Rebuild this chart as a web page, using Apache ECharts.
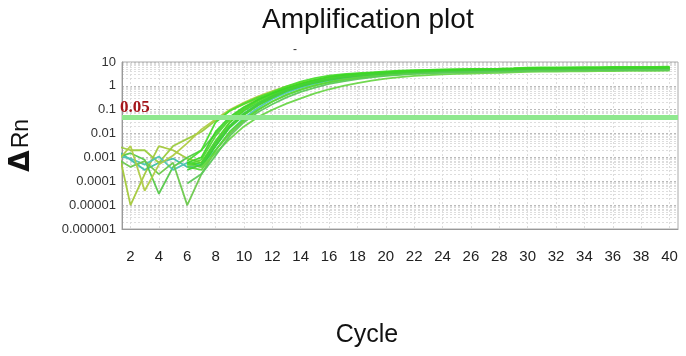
<!DOCTYPE html>
<html>
<head>
<meta charset="utf-8">
<script src="https://cdn.jsdelivr.net/npm/echarts@6/dist/echarts.min.js"></script>
<style>html,body{margin:0;padding:0;background:#fff}#c{width:686px;height:356px}</style>
</head>
<body>
<div id="c"></div>
<script>
var cycles = [1,2,3,4,5,6,7,8,9,10,11,12,13,14,15,16,17,18,19,20,21,22,23,24,25,26,27,28,29,30,31,32,33,34,35,36,37,38,39,40];
var xTickLabels = [2,4,6,8,10,12,14,16,18,20,22,24,26,28,30,32,34,36,38,40];
var yTickValues = [0.000001,0.00001,0.0001,0.001,0.01,0.1,1,10];
var yTickLabels = ['0.000001','0.00001','0.0001','0.001','0.01','0.1','1','10'];
var threshold = 0.05;
var N = null;

var well01 = [0.002,0.0008,0.0003,0.0006,0.0009,0.0004,0.0005,0.003,0.02,0.07,0.18,0.38,0.7,1.1,1.6,2.1,2.6,3.0,3.3,3.6,3.9,4.1,4.3,4.5,4.6,4.7,4.8,4.9,5.0,5.2,5.3,5.3,5.4,5.4,5.5,5.5,5.6,5.6,5.7,5.7];
var well02 = [0.005,0.00001,0.0002,0.003,0.002,0.0009,0.0006,0.004,0.03,0.1,0.25,0.45,0.75,1.15,1.6,2.1,2.6,3.0,3.4,3.7,4.0,4.2,4.4,4.6,4.7,4.8,4.9,5.0,5.1,5.3,5.4,5.4,5.5,5.5,5.6,5.6,5.7,5.7,5.8,5.8];
var well03 = [0.003,0.002,0.002,0.0006,0.003,0.006,0.012,0.035,0.09,0.17,0.3,0.5,0.8,1.2,1.6,2.0,2.4,2.8,3.2,3.5,3.8,4.1,4.3,4.5,4.6,4.7,4.8,4.9,5.0,5.2,5.3,5.3,5.4,5.4,5.5,5.5,5.5,5.6,5.6,5.6];
var well04 = [0.001,0.0015,0.0008,0.00003,0.0004,0.001,0.002,0.01,0.04,0.11,0.25,0.48,0.8,1.2,1.6,2.0,2.4,2.8,3.1,3.4,3.7,3.9,4.1,4.3,4.4,4.5,4.6,4.7,4.8,5.0,5.1,5.1,5.2,5.2,5.3,5.3,5.3,5.4,5.4,5.4];
var well05 = [0.0012,0.0009,0.0005,0.0011,0.0003,0.0006,0.0005,0.002,0.012,0.045,0.12,0.28,0.52,0.85,1.25,1.65,2.05,2.45,2.8,3.1,3.4,3.6,3.8,4.0,4.1,4.2,4.3,4.4,4.5,4.7,4.8,4.8,4.9,4.9,5.0,5.0,5.1,5.1,5.1,5.2];
var well06 = [0.0009,0.0004,0.0007,0.0002,0.0006,0.00001,0.0002,0.002,0.01,0.035,0.1,0.22,0.42,0.7,1.05,1.45,1.85,2.2,2.55,2.85,3.15,3.4,3.6,3.8,3.9,4.0,4.1,4.2,4.3,4.5,4.6,4.6,4.7,4.7,4.8,4.8,4.8,4.9,4.9,5.0];
var well07 = [0.0006,0.003,0.00004,0.0005,0.0012,0.004,0.015,0.04,0.1,0.2,0.36,0.6,0.95,1.35,1.8,2.25,2.65,3.0,3.3,3.6,3.8,4.0,4.2,4.4,4.5,4.6,4.7,4.8,4.9,5.1,5.2,5.2,5.3,5.3,5.4,5.4,5.4,5.5,5.5,5.5];
var well08 = [N,N,N,N,N,0.0005,0.0006,0.005,0.03,0.09,0.2,0.4,0.7,1.1,1.55,2.0,2.45,2.85,3.2,3.5,3.8,4.05,4.25,4.45,4.55,4.65,4.75,4.85,4.95,5.15,5.25,5.25,5.35,5.35,5.45,5.45,5.5,5.55,5.55,5.6];
var well09 = [N,N,N,N,N,0.0006,0.0004,0.003,0.018,0.06,0.15,0.32,0.6,0.95,1.35,1.8,2.2,2.6,2.95,3.25,3.5,3.7,3.9,4.1,4.2,4.3,4.4,4.5,4.6,4.8,4.9,4.9,5.0,5.0,5.1,5.1,5.1,5.2,5.2,5.2];
var well10 = [N,N,N,N,N,0.0004,0.0003,0.002,0.012,0.04,0.1,0.22,0.42,0.7,1.05,1.4,1.75,2.1,2.45,2.75,3.05,3.3,3.5,3.7,3.8,3.9,4.0,4.1,4.2,4.4,4.5,4.5,4.6,4.6,4.7,4.7,4.7,4.8,4.8,4.8];
var well11 = [N,N,N,N,N,0.0005,0.0004,0.0015,0.006,0.02,0.05,0.1,0.18,0.3,0.48,0.72,1.0,1.3,1.65,2.0,2.3,2.6,2.8,3.0,3.2,3.3,3.4,3.5,3.7,3.9,4.0,4.0,4.1,4.1,4.2,4.2,4.3,4.3,4.3,4.4];
var well12 = [N,N,N,N,N,0.0007,0.002,0.03,0.09,0.18,0.33,0.55,0.95,1.5,2.1,2.7,3.1,3.4,3.7,4.0,4.3,4.5,4.7,4.9,5.0,5.1,5.2,5.3,5.5,5.8,5.9,6.0,6.0,6.1,6.1,6.2,6.2,6.3,6.3,6.4];
var well13 = [N,N,N,N,N,0.0005,0.0008,0.008,0.04,0.11,0.24,0.45,0.75,1.15,1.6,2.1,2.6,3.0,3.3,3.6,3.9,4.15,4.35,4.55,4.65,4.75,4.85,4.95,5.1,5.35,5.45,5.5,5.55,5.6,5.65,5.7,5.75,5.8,5.8,5.85];
var well14 = [N,N,N,N,N,0.0003,0.0005,0.004,0.022,0.07,0.17,0.36,0.65,1.0,1.45,1.9,2.3,2.7,3.05,3.35,3.6,3.8,4.0,4.2,4.3,4.4,4.5,4.6,4.7,4.9,5.0,5.0,5.1,5.1,5.2,5.2,5.2,5.3,5.3,5.3];
var well15 = [N,N,N,N,N,0.00008,0.0002,0.0012,0.008,0.03,0.08,0.17,0.33,0.56,0.85,1.2,1.55,1.9,2.25,2.6,2.9,3.15,3.35,3.55,3.65,3.75,3.85,3.95,4.05,4.25,4.35,4.35,4.45,4.45,4.55,4.55,4.6,4.65,4.65,4.7];
var well16 = [N,N,N,N,N,0.0006,0.001,0.012,0.05,0.13,0.27,0.48,0.8,1.25,1.8,2.4,2.85,3.2,3.5,3.8,4.1,4.3,4.5,4.7,4.8,4.9,5.0,5.1,5.3,5.55,5.65,5.7,5.75,5.8,5.85,5.9,5.95,6.0,6.0,6.05];

var wells = [well01,well02,well03,well04,well05,well06,well07,well08,well09,well10,well11,well12,well13,well14,well15,well16];
var colors = ['#3fbfa8','#a3c83a','#9acb3c','#55c94a','#4cc4b4','#6cc84c','#b0cc44','#46d82c','#3ed22a','#58da38','#6ad648','#4ade2e','#52d934','#44cf3a','#5cc95a','#3cd626'];

// minor horizontal grid values (2..9 within each decade)
var minorY = [];
for (var e = -6; e < 1; e++) { for (var m = 2; m <= 9; m++) { minorY.push(m * Math.pow(10, e)); } }

var series = wells.map(function (w, i) {
  return {
    type: 'line', name: 'well' + (i + 1), xAxisIndex: 0, yAxisIndex: 0,
    symbol: 'none', silent: true, connectNulls: false,
    lineStyle: { width: 1.8, color: colors[i], opacity: 0.95 },
    data: cycles.map(function (c, k) { return [c, w[k]]; }),
    z: 3
  };
});
series.push({
  type: 'line', name: 'threshold', xAxisIndex: 0, yAxisIndex: 0, data: [], z: 5, silent: true,
  markLine: {
    silent: true, symbol: 'none',
    lineStyle: { color: '#8fe88f', width: 5, type: 'solid', opacity: 1 },
    label: {
      show: true, position: 'insideStartTop', distance: [-2, 1],
      formatter: String(threshold),
      color: '#a5161b', fontFamily: 'Liberation Serif', fontWeight: 'bold', fontSize: 17
    },
    data: [{ yAxis: threshold }]
  }
});

var chart = echarts.init(document.getElementById('c'), null, { renderer: 'canvas' });
chart.setOption({
  animation: false,
  backgroundColor: '#fff',
  title: {
    text: 'Amplification plot', left: 262, top: 6, padding: 0,
    textStyle: { fontFamily: 'Liberation Sans', fontSize: 28, fontWeight: 'normal', color: '#111' }
  },
  graphic: [{ type: 'text', left: 293, top: 44, style: { text: '-', fontSize: 12, fill: '#333', fontFamily: 'Liberation Sans' } }],
  grid: { left: 118, right: 8, top: 62, bottom: 127, show: true, borderColor: '#aaa', borderWidth: 1, containLabel: false },
  xAxis: [{
    type: 'value', min: 1.4, max: 40.6,
    name: 'Cycle', nameLocation: 'middle', nameGap: 94,
    nameTextStyle: { fontFamily: 'Liberation Sans', fontSize: 25, color: '#111', padding: [0, 66, 0, 0] },
    axisLine: { show: true, lineStyle: { color: '#999' } },
    axisTick: { show: false, customValues: xTickLabels },
    axisLabel: { customValues: xTickLabels, margin: 20, fontFamily: 'Liberation Sans', fontSize: 15, color: '#222' },
    splitLine: { show: true, lineStyle: { color: '#ddd', type: [2, 2], width: 1 } }
  }],
  yAxis: [{
    type: 'log', min: 0.000001, max: 10, logBase: 10,
    name: '{d|Δ}{r|Rn}', nameLocation: 'middle', nameRotate: 90, nameGap: 86,
    nameTextStyle: {
      rich: {
        d: { fontFamily: 'DejaVu Sans', fontWeight: 'bold', fontSize: 28, color: '#111' },
        r: { fontFamily: 'Liberation Sans', fontSize: 23, color: '#111', padding: [0, 0, 0, 2] }
      }
    },
    axisLine: { show: true, lineStyle: { color: '#999' } },
    axisTick: { show: false, customValues: yTickValues },
    axisLabel: {
      customValues: yTickValues, margin: 6, fontFamily: 'Liberation Sans', fontSize: 13, color: '#333',
      formatter: function (v) { return yTickLabels[Math.round(Math.log10(v)) + 6]; }
    },
    splitLine: { show: true, lineStyle: { color: '#bbb', type: [2, 2], width: 1 } }
  }, {
    type: 'log', min: 0.000001, max: 10, logBase: 10, position: 'left',
    axisLine: { show: false }, axisLabel: { show: false },
    axisTick: { show: false, customValues: minorY },
    splitLine: { show: true, lineStyle: { color: '#ddd', type: [2, 2], width: 1 } }
  }],
  series: series
});
</script>
</body>
</html>
